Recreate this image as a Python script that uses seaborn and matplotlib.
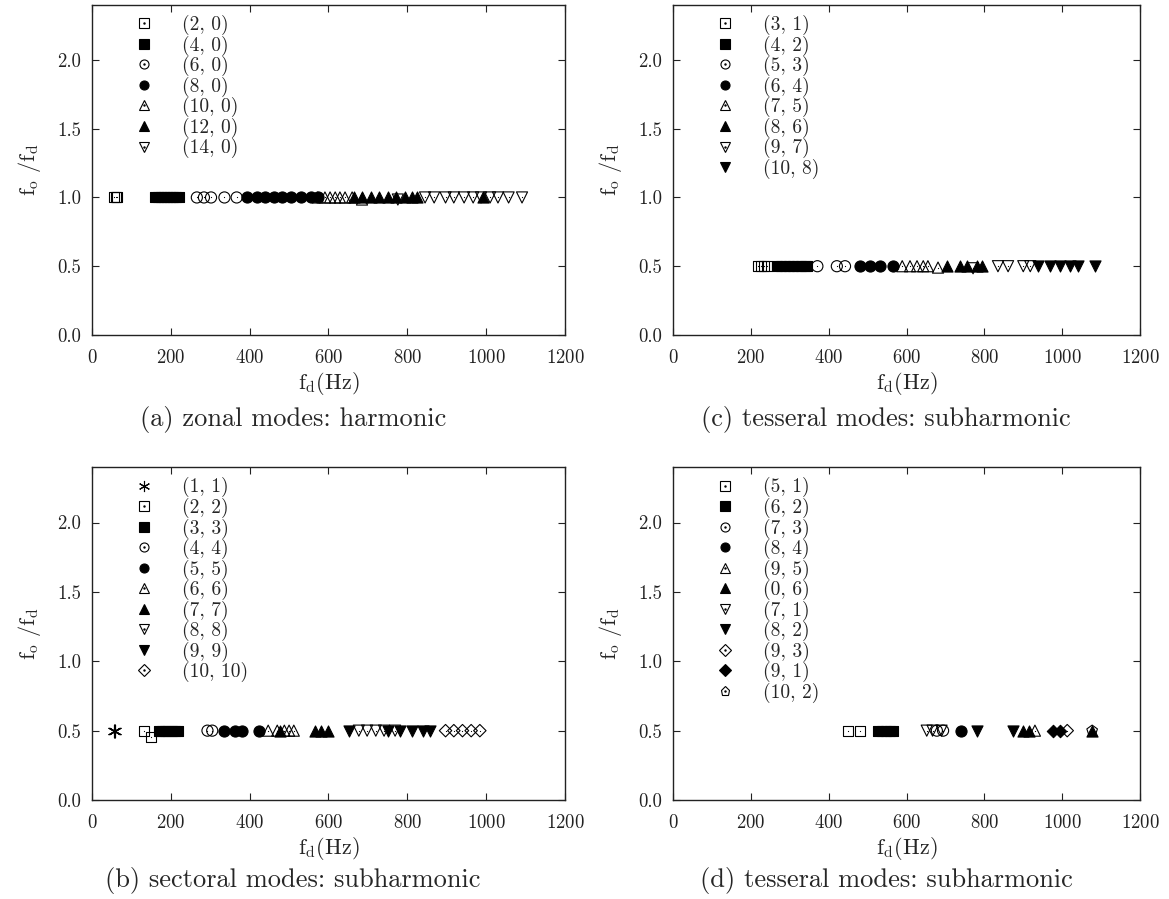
"""
Frequency ratio f_o/f_d against driving frequency for the four mode families.
"""

import matplotlib
matplotlib.use("Agg")
import matplotlib.pyplot as plt
import seaborn as sns
from matplotlib.lines import Line2D
from matplotlib.legend_handler import HandlerTuple

# ---- data -----------------------------------------------------------------

# (a) zonal modes: harmonic
ZONAL_LABELS = ["(2, 0)", "(4, 0)", "(6, 0)", "(8, 0)", "(10, 0)", "(12, 0)", "(14, 0)"]
ZONAL_FD = [
    [56, 60, 63],
    [160, 168, 175, 183, 190, 198, 205, 212, 220],
    [266, 284, 302, 336, 367],
    [392, 419, 439, 462, 482, 505, 530, 556, 573],
    [573, 591, 604, 617, 629, 642, 660, 685],
    [665, 685, 708, 728, 751, 771, 794, 812, 824, 992],
    [776, 845, 868, 897, 918, 944, 967, 987, 1010, 1030, 1057, 1091],
]
ZONAL_RATIO = [
    [1.0, 1.0, 1.0],
    [1.0] * 9,
    [1.0] * 5,
    [1.0] * 9,
    [1.0, 1.0, 1.0, 1.0, 1.0, 1.0, 1.0, 0.985],
    [1.0] * 10,
    [0.985] + [1.0] * 11,
]

# (b) sectoral modes: subharmonic
SECTORAL_LABELS = ["(1, 1)", "(2, 2)", "(3, 3)", "(4, 4)", "(5, 5)", "(6, 6)",
                   "(7, 7)", "(8, 8)", "(9, 9)", "(10, 10)"]
SECTORAL_FD = [
    [56, 59],
    [133, 149],
    [170, 178, 186, 194, 202, 210, 218],
    [293, 305],
    [336, 362, 380, 423],
    [447, 470, 488, 500, 512],
    [478, 565, 580, 600],
    [677, 698, 720, 741, 769],
    [652, 751, 781, 812, 841, 858],
    [897, 918, 940, 962, 984],
]
SECTORAL_RATIO = [
    [0.5, 0.5],
    [0.5, 0.455],
    [0.5] * 7,
    [0.5] * 2,
    [0.5] * 4,
    [0.5] * 5,
    [0.5] * 4,
    [0.5] * 5,
    [0.5] * 6,
    [0.5] * 5,
]

# (c) tesseral modes: subharmonic
TESS_C_LABELS = ["(3, 1)", "(4, 2)", "(5, 3)", "(6, 4)", "(7, 5)", "(8, 6)", "(9, 7)", "(10, 8)"]
TESS_C_FD = [
    [218, 226, 234, 242],
    [268, 278, 288, 298, 308, 318, 328, 338, 345],
    [371, 421, 442],
    [481, 506, 532, 565],
    [589, 609, 627, 643, 655, 681],
    [703, 738, 755, 781, 794],
    [771, 835, 861, 900, 918],
    [938, 969, 995, 1020, 1041, 1085],
]
TESS_C_RATIO = [
    [0.5] * 4,
    [0.5] * 9,
    [0.5] * 3,
    [0.5] * 4,
    [0.5, 0.5, 0.5, 0.5, 0.5, 0.49],
    [0.5] * 5,
    [0.485, 0.5, 0.5, 0.5, 0.5],
    [0.5] * 6,
]

# (d) tesseral modes: subharmonic
TESS_D_LABELS = ["(5, 1)", "(6, 2)", "(7, 3)", "(8, 4)", "(9, 5)", "(0, 6)",
                 "(7, 1)", "(8, 2)", "(9, 3)", "(9, 1)", "(10, 2)"]
TESS_D_FD = [
    [449, 481],
    [527, 537, 547, 557, 565],
    [678, 694],
    [740],
    [930],
    [900, 915, 1077],
    [652, 667, 690],
    [781, 874],
    [1013],
    [977, 995],
    [1077],
]
TESS_D_RATIO = [[0.5] * len(f) for f in TESS_D_FD]

CAPTIONS = ["(a) zonal modes: harmonic", "(b) sectoral modes: subharmonic",
            "(c) tesseral modes: subharmonic", "(d) tesseral modes: subharmonic"]

# ---- marker styles (gnuplot-like: open markers carry a centre dot) --------

STYLE_CYCLE = [("s", False), ("s", True), ("o", False), ("o", True),
               ("^", False), ("^", True), ("v", False), ("v", True),
               ("D", False), ("D", True), ("p", False)]
ASTERISK = ((6, 2, 0), True)
SIZES = {"s": 52, "o": 64, "^": 64, "v": 64, "D": 40, "p": 64}

sns.set_theme(style="ticks")
plt.rcParams["font.family"] = ["cmr10", "DejaVu Serif"]
plt.rcParams["mathtext.fontset"] = "cm"
plt.rcParams["axes.formatter.use_mathtext"] = True
plt.rcParams["axes.unicode_minus"] = False


def draw_panel(ax, labels, fds, ratios, styles):
    handles = []
    for label, fd, ratio, (marker, filled) in zip(labels, fds, ratios, styles):
        is_star = isinstance(marker, tuple)
        sns.scatterplot(
            x=fd, y=ratio, ax=ax, marker=marker,
            s=85 if is_star else SIZES[marker],
            facecolor="black" if filled else "none", edgecolor="black",
            linewidth=0.8, legend=False, zorder=3,
        )
        if is_star:
            # asterisk is drawn from line segments, give it an edge
            ax.collections[-1].set_edgecolor("black")
            ax.collections[-1].set_linewidth(0.8)
        h = Line2D([], [], linestyle="none", marker=marker,
                   markersize=8 if is_star else 6.5,
                   markerfacecolor="black" if filled else "none",
                   markeredgecolor="black", markeredgewidth=0.8)
        if not filled:
            sns.scatterplot(x=fd, y=ratio, ax=ax, marker=".", s=3, color="black",
                            linewidth=0, legend=False, zorder=4)
            dot = Line2D([], [], linestyle="none", marker=".", markersize=1.5,
                         color="black")
            handles.append((h, dot))
        else:
            handles.append(h)

    ax.set_xlim(0, 1200)
    ax.set_ylim(0, 2.4)
    ax.set_xticks(range(0, 1201, 200))
    ax.set_yticks([0.0, 0.5, 1.0, 1.5, 2.0])
    ax.set_yticklabels([f"{v:.1f}" for v in [0.0, 0.5, 1.0, 1.5, 2.0]])
    ax.tick_params(direction="in", top=True, right=True, length=5, width=0.8,
                   labelsize=13.5, pad=8, colors="#222222")
    ax.tick_params(axis="x", pad=10)
    for sp in ax.spines.values():
        sp.set_linewidth(1.0)
        sp.set_color("#222222")
    ax.set_xlabel(r"$\mathrm{f_d(Hz)}$", fontsize=16, labelpad=2)
    ax.set_ylabel(r"$\mathrm{f_o\ /f_d}$", fontsize=16, labelpad=10)
    ax.legend(handles, labels, handler_map={tuple: HandlerTuple(ndivide=1, pad=0)},
              loc="upper left", bbox_to_anchor=(0.09, 0.969), frameon=False,
              fontsize=14, handlelength=1.0, handletextpad=1.45,
              labelspacing=0.02, borderpad=0, borderaxespad=0)


fig = plt.figure(figsize=(11.69, 8.99), dpi=100)
ax_a = fig.add_axes([0.0787, 0.6274, 0.4046, 0.3671])
ax_c = fig.add_axes([0.5757, 0.6274, 0.3995, 0.3671])
ax_b = fig.add_axes([0.0787, 0.1101, 0.4046, 0.3704])
ax_d = fig.add_axes([0.5757, 0.1101, 0.3995, 0.3704])

draw_panel(ax_a, ZONAL_LABELS, ZONAL_FD, ZONAL_RATIO, STYLE_CYCLE)
draw_panel(ax_b, SECTORAL_LABELS, SECTORAL_FD, SECTORAL_RATIO, [ASTERISK] + STYLE_CYCLE)
draw_panel(ax_c, TESS_C_LABELS, TESS_C_FD, TESS_C_RATIO, STYLE_CYCLE)
draw_panel(ax_d, TESS_D_LABELS, TESS_D_FD, TESS_D_RATIO, STYLE_CYCLE)

# captions sit centred under each half of the page
for cap, x, y in [(CAPTIONS[0], 0.2506, 0.533), (CAPTIONS[1], 0.2506, 0.021),
                  (CAPTIONS[2], 0.758, 0.533), (CAPTIONS[3], 0.758, 0.021)]:
    fig.text(x, y, cap, ha="center", va="center", fontsize=19)

fig.savefig("out.png", dpi=100)
